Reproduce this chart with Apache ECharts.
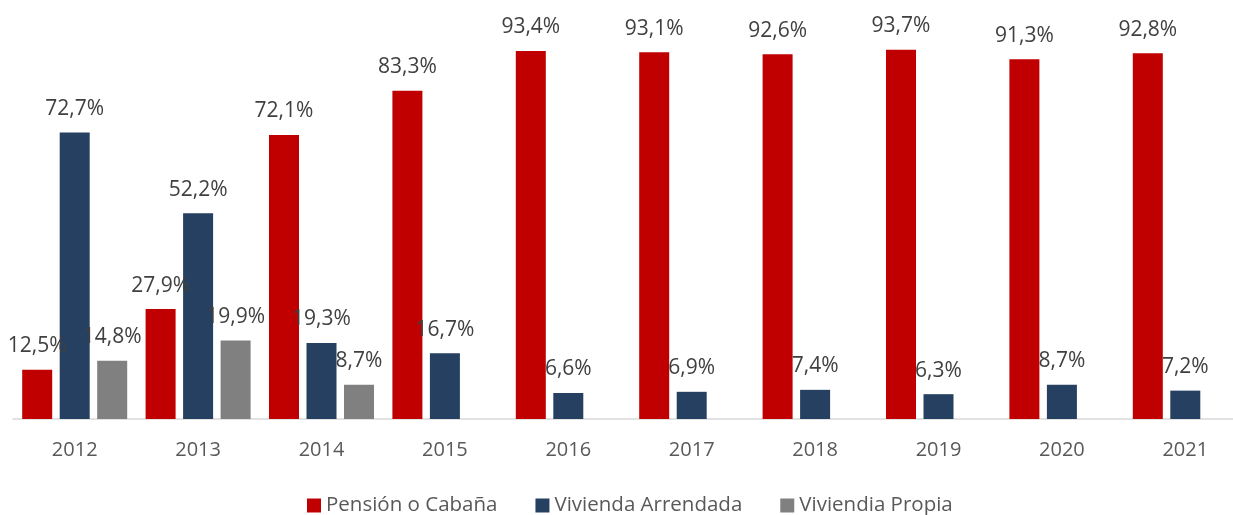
<!DOCTYPE html>
<html>
<head>
<meta charset="utf-8">
<script src="https://cdn.jsdelivr.net/npm/echarts@6/dist/echarts.min.js"></script>
<style>
  html, body { margin: 0; padding: 0; background: #fff; }
  #chart { width: 1233px; height: 515px; }
</style>
</head>
<body>
<div id="chart"></div>
<script>
// datos
const years = ['2012', '2013', '2014', '2015', '2016', '2017', '2018', '2019', '2020', '2021'];
const pensionCabana = [12.5, 27.9, 72.1, 83.3, 93.4, 93.1, 92.6, 93.7, 91.3, 92.8];
const viviendaArrendada = [72.7, 52.2, 19.3, 16.7, 6.6, 6.9, 7.4, 6.3, 8.7, 7.2];
const viviendaPropia = [14.8, 19.9, 8.7, null, null, null, null, null, null, null];

const chart = echarts.init(document.getElementById('chart'));
const fontFamily = '"Open Sans", sans-serif';

function pct(p) {
    return p.value.toFixed(1).replace('.', ',') + '%';
}

function barSeries(name, data, color) {
    return {
        name: name,
        type: 'bar',
        data: data,
        barWidth: 30,
        barGap: '25%',
        itemStyle: { color: color },
        label: {
            show: true,
            position: 'top',
            distance: 13,
            formatter: pct,
            color: '#404040',
            fontSize: 21,
            fontFamily: fontFamily
        }
    };
}

const option = {
    animation: false,
    textStyle: { fontFamily: fontFamily },
    grid: { left: 13, top: 25, right: -14, height: 394, outerBoundsMode: 'none' },
    legend: {
        left: 302,
        top: 490,
        icon: 'rect',
        itemWidth: 14,
        itemHeight: 14,
        itemGap: 38,
        textStyle: { fontSize: 20.5, color: '#595959', fontFamily: fontFamily }
    },
    xAxis: {
        type: 'category',
        data: years,
        axisLine: { lineStyle: { color: '#D9D9D9', width: 1.5 } },
        axisTick: { show: false },
        axisLabel: { color: '#595959', fontSize: 20, margin: 21, fontFamily: fontFamily }
    },
    yAxis: {
        type: 'value',
        min: 0,
        max: 100,
        show: false,
        splitLine: { show: false }
    },
    series: [
        barSeries('Pensión o Cabaña', pensionCabana, '#C00000'),
        barSeries('Vivienda Arrendada', viviendaArrendada, '#254061'),
        barSeries('Viviendia Propia', viviendaPropia, '#808080')
    ]
};

chart.setOption(option);
</script>
</body>
</html>
